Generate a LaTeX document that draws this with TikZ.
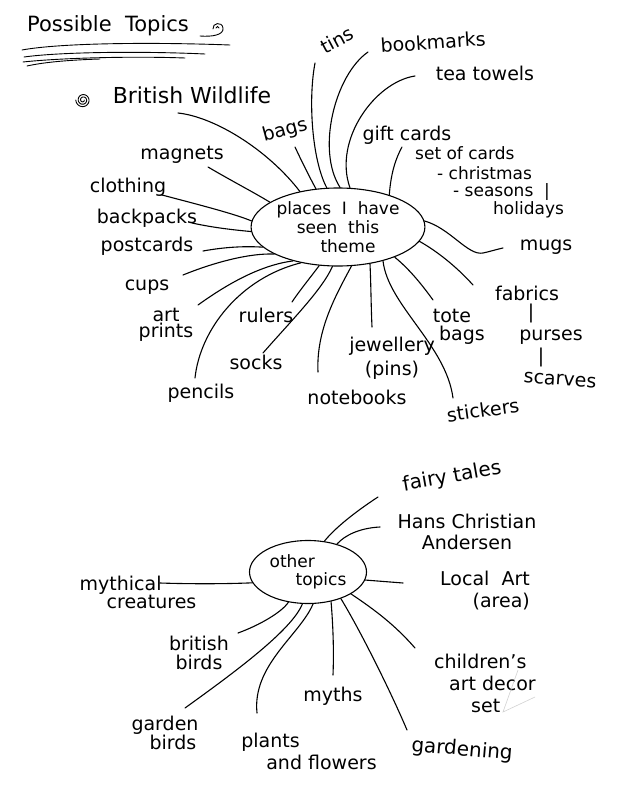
\documentclass[tikz,border=0pt]{standalone}
\usepackage{fontspec}
\setmainfont{DejaVu Sans}
\usetikzlibrary{shapes.geometric}
\begin{document}
\begin{tikzpicture}[x=1pt,y=-1pt,
  lbl/.style={inner sep=0pt, align=center, font=\fontsize{19}{21}\selectfont},
  sm/.style={lbl, font=\fontsize{17}{18}\selectfont},
  hub/.style={draw, ellipse, line width=1.1pt, inner sep=0pt, align=center},
  br/.style={line width=1.1pt, line cap=round},
  faint/.style={draw=gray!35, line width=0.6pt},
]
\fill[white] (0,0) rectangle (624,800);
\useasboundingbox (0,0) rectangle (624,800);

% ---------- title ----------
\node[lbl, font=\fontsize{21}{23}\selectfont] (title) at (108,26) {Possible\ \ Topics};
\draw[br, line width=0.9pt] (213,29) .. controls (212,23) and (222,21) .. (223,28)
   .. controls (224,35) and (212,37) .. (200,36);
\draw[br, line width=0.9pt] (216,28) .. controls (216,26) and (219,26) .. (219,28);
\draw[br, line width=0.9pt] (22,50) .. controls (60,43) and (150,42) .. (230,45);
\draw[br, line width=0.9pt] (24,57) .. controls (60,52) and (140,51) .. (205,54);
\draw[br, line width=0.9pt] (23,62) .. controls (60,58) and (130,56) .. (185,58);
\draw[br, line width=0.9pt] (27,66) .. controls (45,62) and (70,60) .. (100,59);

% ---------- hub 1 ----------
\node[hub, minimum width=168pt, minimum height=78pt, font=\fontsize{17}{19}\selectfont] (c1) at (338,227)
  {places\ \ I\ \ have\\seen\ \ this\\\hspace*{20pt}theme};

\node[lbl, font=\fontsize{22}{24}\selectfont] (lBW) at (192,95) {British Wildlife};
\draw[br, line width=0.9pt] plot[domain=0:900, samples=70] ({83+(1.2+\x/150)*cos(\x)}, {100+(1.2+\x/150)*sin(\x)});
\node[lbl, rotate=28] (ltins) at (337,40) {tins};
\node[lbl, rotate=4] (lbook) at (433,42) {bookmarks};
\node[lbl] (ltea) at (485,73) {tea towels};
\node[lbl, rotate=15] (lbags) at (285,131) {bags};
\node[lbl] (lgift) at (407,135) {gift cards};
\node[sm, anchor=west] (lset) at (415,153) {set of cards};
\node[sm, anchor=west] (lxmas) at (437,173) {- christmas};
\node[sm, anchor=west] (lseas) at (453,192) {- seasons\ \ |};
\node[sm, anchor=west] (lhol) at (493,210) {holidays};
\node[lbl] (lmag) at (182,155) {magnets};
\node[lbl] (lcloth) at (128,187) {clothing};
\node[lbl] (lback) at (147,218) {backpacks};
\node[lbl] (lpost) at (147,246) {postcards};
\node[lbl] (lcups) at (147,287) {cups};
\node[lbl, font=\fontsize{19}{16}\selectfont] (lart) at (166,325) {art\\prints};
\node[lbl] (lrul) at (266,315) {rulers};
\node[lbl] (lsocks) at (256,362) {socks};
\node[lbl] (lpen) at (201,393) {pencils};
\node[lbl] (lnote) at (357,397) {notebooks};
\node[lbl, font=\fontsize{19}{24}\selectfont] (ljew) at (392,358) {jewellery\\(pins)};
\node[lbl, font=\fontsize{19}{18}\selectfont] (ltote) at (452,327) {tote\\\hspace*{20pt}bags};
\node[lbl, rotate=8] (lstick) at (483,410) {stickers};
\node[lbl] (lmugs) at (546,247) {mugs};
\node[lbl] (lfab) at (527,293) {fabrics};
\node[lbl] (lbar1) at (531,313) {|};
\node[lbl] (lpurse) at (551,337) {purses};
\node[lbl] (lbar2) at (541,357) {|};
\node[lbl, rotate=-4] (lscarf) at (560,380) {scarves};

\coordinate (eBW) at (178,113);
\coordinate (ebags) at (295,147);
\coordinate (etins) at (315,63);
\coordinate (ebook) at (368,52);
\coordinate (etea) at (415,76);
\coordinate (egift) at (402,147);
\coordinate (emag) at (208,167);
\coordinate (ecloth) at (162,195);
\coordinate (eback) at (192,223);
\coordinate (epost) at (203,251);
\coordinate (ecups) at (183,275);
\coordinate (eart) at (198,305);
\coordinate (epen) at (195,378);
\coordinate (erul) at (292,302);
\coordinate (esocks) at (263,353);
\coordinate (enote) at (318,372);
\coordinate (ejew) at (372,327);
\coordinate (estick) at (453,398);
\coordinate (etote) at (433,300);
\coordinate (efab) at (473,285);
\coordinate (emugs) at (503,248);

\draw[br] (eBW) .. controls (215,117) and (268,150) .. (c1.137);
\draw[br] (ebags) .. controls (302,162) and (310,178) .. (c1.120);
\draw[br] (etins) .. controls (308,100) and (312,160) .. (c1.106);
\draw[br] (ebook) .. controls (335,75) and (316,150) .. (c1.87);
\draw[br] (etea) .. controls (375,82) and (333,140) .. (c1.73);
\draw[br] (egift) .. controls (396,158) and (391,172) .. (c1.32);
\draw[br] (emag) .. controls (230,180) and (255,193) .. (c1.160);
\draw[br] (ecloth) .. controls (200,205) and (235,214) .. (c1.176);
\draw[br] (eback) .. controls (215,228) and (235,230) .. (c1.183);
\draw[br] (epost) .. controls (225,247) and (245,246) .. (c1.195);
\draw[br] (ecups) .. controls (215,262) and (250,253) .. (c1.203);
\draw[br] (eart) .. controls (230,282) and (262,265) .. (c1.217);
\draw[br] (epen) .. controls (200,330) and (240,278) .. (c1.224);
\draw[br] (erul) .. controls (300,290) and (310,278) .. (c1.244);
\draw[br] (esocks) .. controls (290,322) and (322,290) .. (c1.262);
\draw[br] (enote) .. controls (316,330) and (336,295) .. (c1.289);
\draw[br] (ejew) .. controls (371,305) and (371,285) .. (c1.311);
\draw[br] (estick) .. controls (446,345) and (388,305) .. (c1.323);
\draw[br] (etote) .. controls (420,282) and (408,268) .. (c1.332);
\draw[br] (efab) .. controls (455,265) and (435,250) .. (c1.350);
\draw[br] (c1.4) .. controls (450,228) and (468,256) .. (483,253) .. controls (492,251) and (498,249) .. (emugs);

% ---------- hub 2 ----------
\node[hub, minimum width=117pt, minimum height=63pt, align=left, font=\fontsize{17}{18}\selectfont] (c2) at (308,572)
  {other\\\hspace*{26pt}topics};

\node[lbl, rotate=10, font=\fontsize{20}{22}\selectfont] (lfairy) at (452,477) {fairy tales};
\node[lbl, font=\fontsize{19}{21}\selectfont] (lhans) at (467,532) {Hans Christian\\Andersen};
\node[lbl, align=right, font=\fontsize{19}{22}\selectfont] (lloc) at (485,591) {Local\ \ Art\\(area)};
\node[lbl, align=left, font=\fontsize{19}{22}\selectfont] (lchild) at (485,683) {children's\\\hspace*{15pt}art decor\\\hspace*{37pt}set};
\node[lbl, rotate=-5, font=\fontsize{20}{22}\selectfont] (lgard) at (462,750) {gardening};
\node[lbl] (lmyth) at (333,696) {myths};
\node[lbl, align=left, font=\fontsize{19}{22}\selectfont] (lplant) at (309,751) {plants\\\hspace*{25pt}and flowers};
\node[lbl, align=left, font=\fontsize{19}{18}\selectfont] (lgbird) at (165,733) {garden\\\hspace*{18pt}birds};
\node[lbl, font=\fontsize{19}{19}\selectfont] (lbbird) at (199,653) {british\\birds};
\node[lbl, align=left, font=\fontsize{19}{18}\selectfont] (lmythc) at (138,592) {mythical\\\hspace*{27pt}creatures};

\coordinate (efairy) at (378,497);
\coordinate (ehans) at (380,527);
\coordinate (eloc) at (403,583);
\coordinate (echild) at (415,648);
\coordinate (egard) at (407,730);
\coordinate (emyth) at (333,675);
\coordinate (eplant) at (257,713);
\coordinate (egbird) at (185,708);
\coordinate (ebbird) at (238,633);
\coordinate (emythc) at (160,583);

\draw[br] (efairy) .. controls (355,512) and (335,528) .. (c2.62);
\draw[br] (ehans) .. controls (360,528) and (345,535) .. (c2.44);
\draw[br] (eloc) -- (c2.352);
\draw[br] (echild) .. controls (395,625) and (375,610) .. (c2.333);
\draw[br] (egard) .. controls (390,690) and (360,630) .. (c2.321);
\draw[br] (emyth) .. controls (334,650) and (333,625) .. (c2.308);
\draw[br] (eplant) .. controls (252,665) and (300,635) .. (c2.279);
\draw[br] (egbird) .. controls (235,672) and (292,630) .. (c2.260);
\draw[br] (ebbird) .. controls (260,625) and (282,612) .. (c2.237);
\draw[br] (emythc) .. controls (190,584) and (225,584) .. (c2.191);

\draw[faint] (518,670) -- (503,712) -- (535,697);
\end{tikzpicture}
\end{document}
